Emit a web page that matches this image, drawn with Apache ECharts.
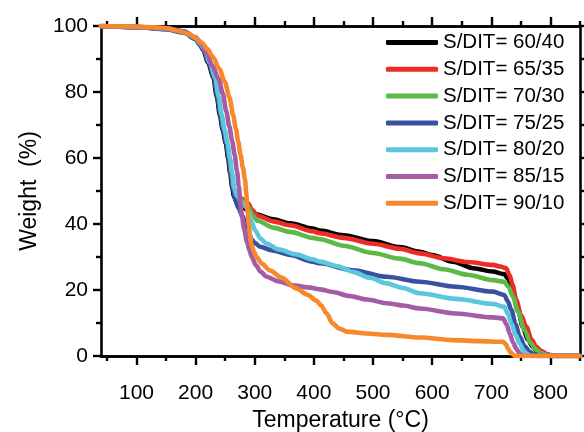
<!DOCTYPE html>
<html><head><meta charset="utf-8">
<script src="https://cdn.jsdelivr.net/npm/echarts@6/dist/echarts.min.js"></script>
<style>html,body{margin:0;padding:0;background:#fff}#c{width:584px;height:432px}</style>
</head><body><div id="c"></div>
<script>
const seriesNames = ['S/DIT= 60/40','S/DIT= 65/35','S/DIT= 70/30','S/DIT= 75/25','S/DIT= 80/20','S/DIT= 85/15','S/DIT= 90/10'];
const seriesColors = ['#000000','#ee2b25','#5db946','#3a51a2','#5bc7dc','#a55ca7','#f7882b'];
const xMajorTicks = [100,200,300,400,500,600,700,800];
const xMinorTicks = [50,150,250,350,450,550,650,750,850];

const s6040 = [[40,100],[100,99.7],[150,99.1],[180,98.2],[200,96.3],[207,94.5],[213,92.7],[221,89],[230,84.5],[236,78.5],[241,73],[246,68.5],[251,64.5],[255,60],[258.5,55.4],[262,51],[265,48.3],[270,46.3],[278,45.2],[288,44.3],[300,43],[331,41.4],[360,40.2],[398,38.6],[410,38],[450,36.6],[500,34.8],[545,33],[579,31.6],[600,30.6],[635,28.6],[670,26.6],[702,25.6],[722,24.8],[728,23.5],[736,20],[745,14.5],[753,8.9],[762,5],[770,2.8],[778,1.4],[787,0.6],[795,0.2],[805,0],[850,0]];
const s6535 = [[40,100],[100,99.7],[150,99.2],[180,98.3],[200,96.5],[208,94.6],[215,92.7],[223,89],[232,84.5],[238,78.5],[243,73],[248,68.5],[253,64.5],[257,60],[260.5,55.4],[264,51],[268,49],[274,48],[282,47.2],[289,46.3],[295,44.3],[305,42.5],[331,40.8],[360,39.6],[398,37.8],[410,37.2],[450,35.8],[500,34],[545,32.5],[579,31.1],[620,29.6],[660,28.5],[703,27.6],[715,27.1],[725,26.6],[731,24.5],[736,21.5],[742,17],[750,12.5],[759,8.9],[768,5],[776,2.8],[785,1.5],[793,0.7],[800,0.3],[810,0],[850,0]];
const s7030 = [[40,100],[100,99.7],[150,99.2],[180,98.3],[200,96.4],[208,94.5],[215,92.7],[223,89],[232,84.5],[238,78.5],[243,73],[248,68.5],[253,64.5],[257,60],[260.5,55.4],[264,51],[268,48.8],[276,47.3],[284,46.3],[290,45],[296,42.6],[305,41],[331,38.9],[360,37.6],[398,35.8],[410,35.4],[450,33.4],[500,31.2],[545,29.5],[579,28.1],[620,26.3],[660,24.6],[703,23],[722,22.5],[729,21],[736.5,18],[745,13.5],[756,7.9],[766,4],[776,1.8],[786,0.8],[793,0.4],[800,0.1],[810,0],[850,0]];
const s7525 = [[40,100],[100,99.6],[150,99],[180,98],[200,96],[207,94.3],[214,92.7],[222,89],[231,84.5],[237,78.5],[242,73],[247,68.5],[252,64.5],[256,60],[259.5,55.4],[263,51],[267,47.5],[272,45],[279,42.5],[285,40],[290,37],[295,35.3],[300,34.3],[309,33.1],[330,32],[360,30.6],[398,28.6],[410,28.1],[466,26],[523,24],[579,22.5],[640,21],[703,19.5],[722,18.5],[728,16.5],[734,13.9],[741,9.5],[748,5.9],[756,3],[765,1.3],[772,0.5],[780,0],[850,0]];
const s8020 = [[40,100],[100,99.7],[150,99.2],[180,98.3],[200,96.4],[208,94.6],[216,92.7],[224,89],[233,84.5],[239,78.5],[244,73],[249,68.5],[254,64.5],[258,60],[261.5,55.4],[265,51],[270,48.5],[278,46.5],[285,45.3],[290,43.5],[295,40.5],[300,38.2],[310,35.5],[320,34.1],[340,32.3],[370,30.8],[398,29.3],[410,28.6],[440,27.2],[466,25.5],[495,23.7],[523,22],[550,20.6],[579,19],[640,17.3],[703,15.8],[722,14.9],[728,12.8],[734,9.9],[741,6.5],[748,3.8],[754,1.8],[760,0.7],[767,0],[850,0]];
const s8515 = [[40,100],[100,99.7],[150,99.3],[180,98.4],[200,96.6],[210,94.6],[219,91.7],[228,88],[239,84],[246,79.5],[252,74],[257,69.5],[262,65],[266,61],[270,56],[273,51.5],[276,46],[278.5,42],[282,38.5],[287,34.5],[291,32],[295,30],[302,27.5],[310,25.5],[320,24],[340,22.6],[365,21.4],[390,20.8],[410,20.2],[432,19.4],[460,18.2],[490,17.1],[523,16],[550,15.3],[579,14.4],[640,12.9],[703,11.7],[720,11.4],[726,9.5],[731,6.9],[737,4],[742,2.3],[746,1.2],[750,0.5],[755,0],[850,0]];
const s9010 = [[40,100],[100,99.8],[150,99.4],[173,98.4],[190,97.4],[200,96.4],[210,95],[220,93],[229,90.7],[240,87],[249.5,83],[257,78.5],[263.5,73],[268,69],[272,65],[276,61],[280,57],[283.5,53.5],[285.5,49.5],[287.5,45],[290,39.5],[292,36.5],[295,33.5],[299,31.5],[303,30],[312,28],[325,26],[345,23.8],[370,20.5],[390,18.5],[404,16.8],[412,15.4],[421,13],[432,9.8],[443,8.3],[455,7.4],[490,6.8],[523,6.4],[580,5.6],[635,4.8],[680,4.5],[720,4.3],[725,3.5],[728,2.3],[732,1.2],[736.5,0.5],[740,0],[850,0]];
const allData = [s6040,s6535,s7030,s7525,s8020,s8515,s9010];

const FONT = 'Liberation Sans, Arial, sans-serif';
const axisLine = {show:true, lineStyle:{color:'#000', width:2.6}};
function xAx(pos, ticks, len, labels, name){
  return {type:'value', position:pos, min:40, max:850,
    axisLine: axisLine,
    axisTick:{show:true, inside:false, length:len, customValues:ticks, lineStyle:{color:'#000', width:2.4}},
    axisLabel: labels ? {show:true, customValues:ticks, color:'#000', fontSize:21, fontFamily:FONT, margin:27} : {show:false},
    splitLine:{show:false},
    name: name || '', nameLocation:'middle', nameGap:53,
    nameTextStyle:{color:'#000', fontSize:23, fontFamily:FONT}};
}
function yAx(pos, labels, name){
  return {type:'value', position:pos, min:0, max:100, interval:20,
    axisLine: axisLine,
    axisTick:{show:true, inside:false, length:8, lineStyle:{color:'#000', width:2.4}},
    minorTick:{show:true, splitNumber:2, length:5, lineStyle:{color:'#000', width:2.4}},
    axisLabel: labels ? {show:true, color:'#000', fontSize:21, fontFamily:FONT, margin:13} : {show:false},
    splitLine:{show:false},
    name: name || '', nameLocation:'middle', nameGap:60,
    nameTextStyle:{color:'#000', fontSize:23, fontFamily:FONT}};
}

const chart = echarts.init(document.getElementById('c'), null, {renderer:'canvas'});
chart.setOption({
  animation:false,
  backgroundColor:'#fff',
  grid:{left:101, right:4, top:26, bottom:76, containLabel:false, outerBoundsMode:'none'},
  xAxis:[
    xAx('bottom', xMajorTicks, 9, true, 'Temperature (°C)'),
    xAx('bottom', xMinorTicks, 5, false),
    xAx('top', xMajorTicks, 9, false),
    xAx('top', xMinorTicks, 5, false)
  ],
  yAxis:[ yAx('left', true, 'Weight  (%)'), yAx('right', false) ],
  legend:{show:true, orient:'vertical', left:386, top:32, itemWidth:52, itemHeight:5, itemGap:5.8,
    icon:'roundRect', padding:0,
    textStyle:{color:'#000', fontSize:20.5, fontFamily:FONT, lineHeight:20},
    data: seriesNames},
  series: allData.map((d,i)=>({
    name: seriesNames[i], type:'line', data:d, xAxisIndex:0, yAxisIndex:0,
    symbol:'none', showSymbol:false, smooth:0.3, smoothMonotone:'x',
    color: seriesColors[i],
    lineStyle:{color:seriesColors[i], width:4.6, cap:'round', join:'round'},
    z: 2+i
  }))
});
</script></body></html>
